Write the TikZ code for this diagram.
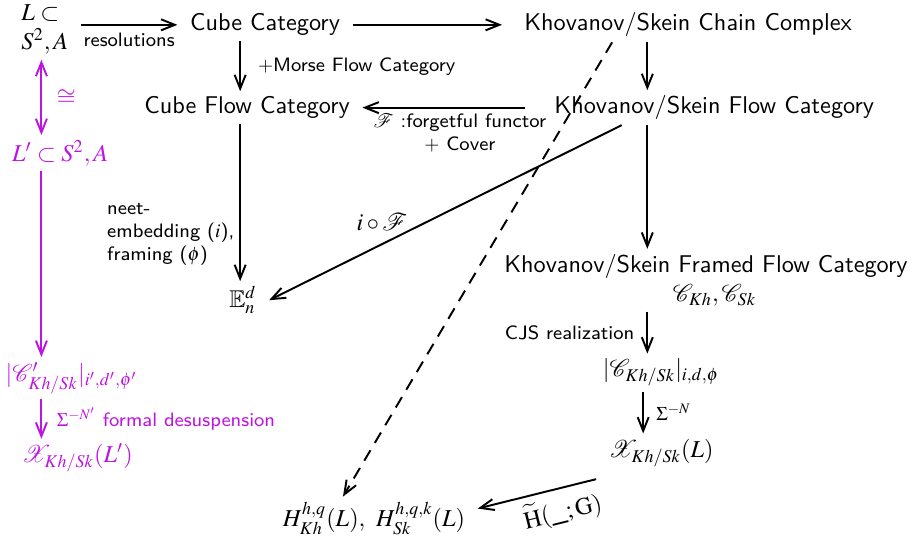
\documentclass[tikz,border=0pt]{standalone}
\usepackage{amsmath,amssymb}
\usepackage{mathptmx}
\usepackage{mathrsfs}
\usepackage{tikz}
\usetikzlibrary{arrows.meta,calc}
\definecolor{desusp}{RGB}{190,20,225}
\tikzset{
  cdnode/.style={inner xsep=5pt, inner ysep=2pt, font=\sffamily},
  cdlabel/.style={inner sep=2pt, font=\sffamily\footnotesize},
  cdarrow/.style={-{Straight Barb[length=2mm,width=1.6mm]}, thick},
  cdboth/.style={{Straight Barb[length=2mm,width=1.6mm]}-{Straight Barb[length=2mm,width=1.6mm]}, thick},
  cddashed/.style={cdarrow, dash pattern=on 5pt off 3.5pt},
}

\begin{document}
\begin{tikzpicture}[x=1cm, y=1cm]
  \useasboundingbox (0,0) rectangle (13.23,-7.77);
  \coordinate (colL) at (0.60,0);
  \coordinate (colM) at (3.48,0);
  \coordinate (colR) at (9.38,0);
  \coordinate (colS) at (9.32,0);
  % Knoten
  \node[cdnode, align=left] (link) at (0.65,-0.43) {$L\subset$\\$S^2,A$};
  \node[cdnode] (cube) at (3.84,-0.36) {Cube Category};
  \node[cdnode] (kcc) at (9.97,-0.36) {Khovanov/Skein Chain Complex};
  \node[cdnode] (cfc) at (3.58,-1.56) {Cube Flow Category};
  \node[cdnode] (kfc) at (10.35,-1.56) {Khovanov/Skein Flow Category};
  \node[cdnode] (emb) at (3.52,-4.35) {$\mathbb{E}^d_n$};
  \node[cdnode, align=center] (kffc) at (10.23,-4.06)
    {Khovanov/Skein Framed Flow Category\\\hspace*{0.25cm}$\mathscr{C}_{Kh},\mathscr{C}_{Sk}$};
  \node[cdnode] (real) at (9.58,-5.40) {$|\mathscr{C}_{Kh/Sk}|_{i,d,\phi}$};
  \node[cdnode] (spec) at (9.58,-6.56) {$\mathscr{X}_{Kh/Sk}(L)$};
  \node[cdnode] (homol) at (5.42,-7.51) {$H^{h,q}_{Kh}(L),\ H^{h,q,k}_{Sk}(L)$};
  % L'
  \node[cdnode, text=desusp] (link2) at (0.87,-2.22) {$L'\subset S^2,A$};
  \node[cdnode, text=desusp] (real2) at (1.04,-5.48) {$|\mathscr{C}'_{Kh/Sk}|_{i',d',\phi'}$};
  \node[cdnode, text=desusp] (spec2) at (1.12,-6.64) {$\mathscr{X}_{Kh/Sk}(L')$};
  % Pfeile
  \draw[cdarrow] (link.east |- cube.west) -- (cube.west)
    node[cdlabel, midway, below=1pt] {resolutions};
  \draw[cdarrow] (cube.east) -- ([xshift=-4pt]kcc.west);
  \draw[cdarrow] (cube.south -| colM) -- (cfc.north -| colM)
    node[cdlabel, midway, right=5pt] {$+$Morse Flow Category};
  \draw[cdarrow] ([xshift=-7pt]kfc.west) -- (cfc.east)
    node[cdlabel, pos=0.4, below, align=center] {$\mathscr{F}$ :forgetful functor\\$+$ Cover};
  \draw[cdarrow] (cfc.south -| colM) -- (emb.north -| colM)
    node[cdlabel, pos=0.7, left, align=left] {neet-\\embedding ($i$),\\framing ($\phi$)};
  \draw[cdarrow] ([xshift=-1.34cm]kfc.south) -- (emb.east)
    node[cdnode, pos=0.68, above=3pt] {$i\circ\mathscr{F}$};
  \draw[cddashed] ([xshift=-1.1cm]kcc.south) -- ([xshift=-0.45cm]homol.north);
  \draw[cdarrow] (kcc.south -| colR) -- (kfc.north -| colR);
  \draw[cdarrow] (kfc.south -| colR) -- (kffc.north -| colR);
  \draw[cdarrow] (kffc.south -| colR) -- (real.north -| colR)
    node[cdlabel, midway, left=3pt] {CJS realization};
  \draw[cdarrow] (real.south -| colS) -- (spec.north -| colS)
    node[cdlabel, midway, right=3pt] {$\Sigma^{-N}$};
  \draw[cdarrow] ([yshift=-3pt]spec.south west) -- ([yshift=4pt]homol.east)
    node[cdnode, pos=0.33, below=1pt, sloped] {$\widetilde{\mathrm{H}}(\_;\mathrm{G})$};
  % desuspension
  \draw[cdboth, desusp] (link.south -| colL) -- (link2.north -| colL)
    node[cdnode, midway, right=1pt] {$\cong$};
  \draw[cdarrow, desusp] (link2.south -| colL) -- (real2.north -| colL);
  \draw[cdarrow, desusp] (real2.south -| colL) -- (spec2.north -| colL)
    node[cdlabel, midway, right=4pt] {$\Sigma^{-N'}$ formal desuspension};
\end{tikzpicture}
\end{document}
